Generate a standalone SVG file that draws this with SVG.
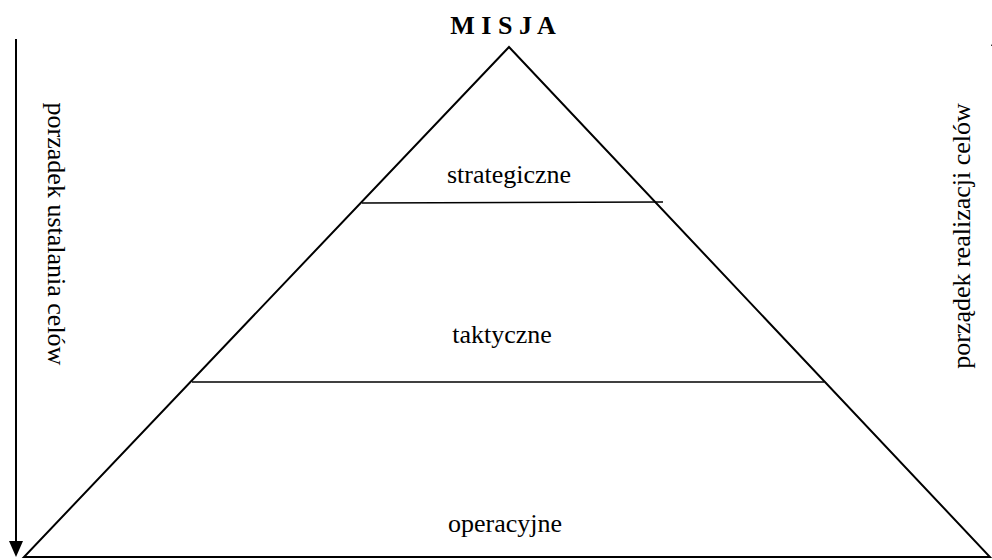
<svg xmlns="http://www.w3.org/2000/svg" width="992" height="560" viewBox="0 0 992 560">
  <style>
    .edge { stroke: #000; stroke-width: 2; fill: none; }
    .tier { stroke: #000; stroke-width: 1.5; fill: none; }
    .lbl { font-family: "Liberation Serif", "Times New Roman", serif; font-size: 26px; fill: #000; text-anchor: middle; }
    .title { font-weight: bold; }
    .head { fill: #000; stroke: none; }
  </style>
  <rect width="992" height="560" fill="#fff"/>

  <g id="pyramid">
    <polygon class="edge" points="509,47 24,557 990,557"/>
  </g>

  <g id="tiers">
    <line class="tier" x1="362" y1="203" x2="663" y2="202"/>
    <line class="tier" x1="192" y1="382" x2="824" y2="382"/>
  </g>

  <g id="misja">
    <text class="lbl title" x="503" y="34">M I S J A</text>
  </g>
  <g id="strategiczne">
    <text class="lbl" x="509" y="183">strategiczne</text>
  </g>
  <g id="taktyczne">
    <text class="lbl" x="502" y="343">taktyczne</text>
  </g>
  <g id="operacyjne">
    <text class="lbl" x="505" y="532">operacyjne</text>
  </g>

  <g id="connectors">
    <!-- goal-setting order: downward -->
    <line class="edge" x1="16" y1="39" x2="16" y2="542"/>
    <polygon class="head" points="9,541 23,541 16,557"/>
    <!-- goal-realisation order: upward -->
    <line class="edge" x1="998" y1="46" x2="998" y2="557"/>
    <polygon class="head" points="991,46 1005,46 998,30"/>
  </g>

  <g id="axis-left">
    <text class="lbl" transform="translate(48,234) rotate(90)">porzadek ustalania celów</text>
  </g>
  <g id="axis-right">
    <text class="lbl" transform="translate(970,236) rotate(-90)">porządek realizacji celów</text>
  </g>
</svg>
